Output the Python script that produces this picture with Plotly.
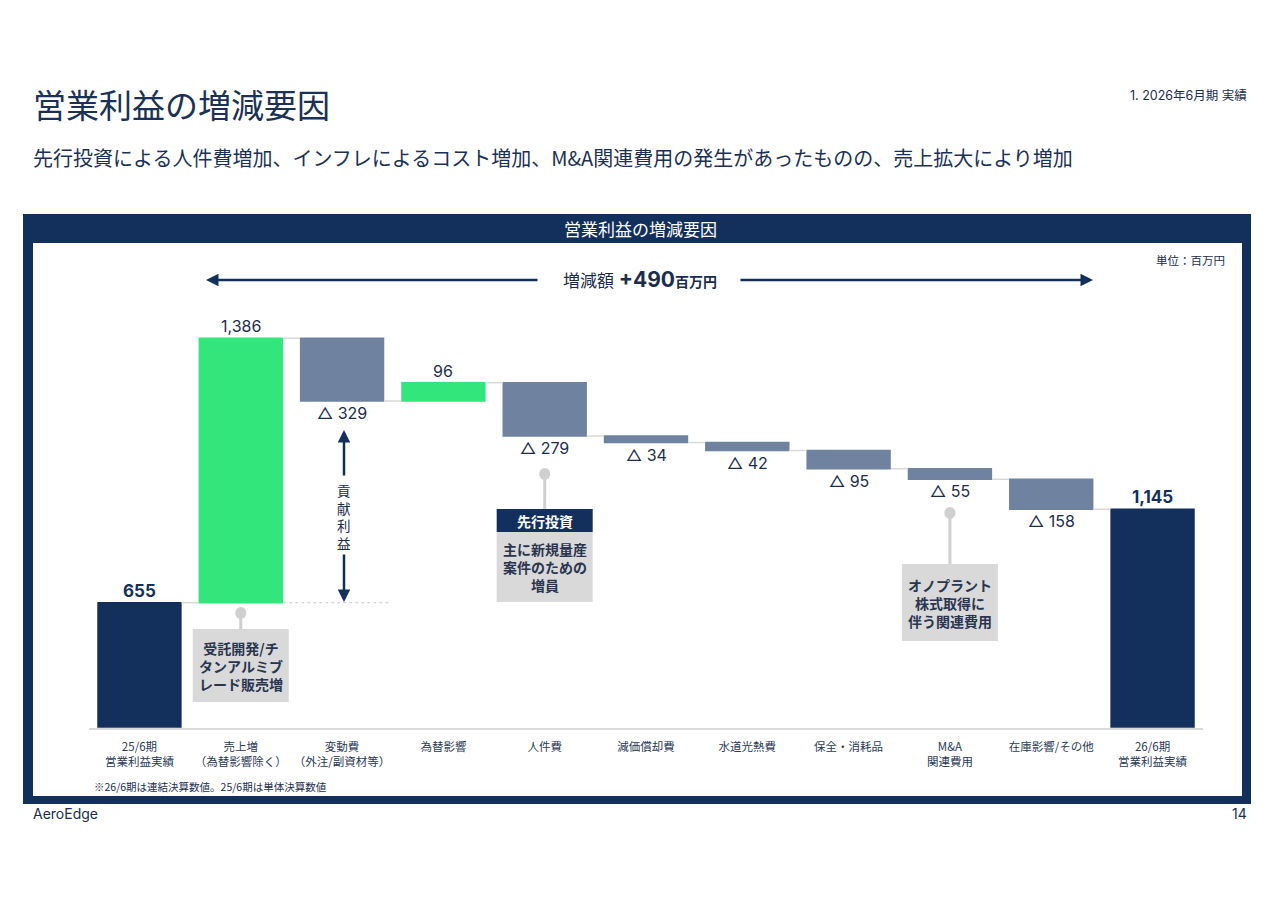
import plotly.graph_objects as go

# data (百万円)
categories = ["25/6期<br>営業利益実績", "売上増<br>（為替影響除く）", "変動費<br>（外注/副資材等）",
              "為替影響", "人件費", "減価償却費", "水道光熱費", "保全・消耗品",
              "M&A<br>関連費用", "在庫影響/その他", "26/6期<br>営業利益実績"]
values = [655, 1386, -329, 96, -279, -34, -42, -95, -55, -158, 0]
measures = ["absolute"] + ["relative"] * 9 + ["total"]

NAVY = "#13305d"
GREEN = "#33e67b"
SLATE = "#6f829f"
LGREY = "#d9d9d9"
TXT = "#1b2d4f"
FONT = "Inter, 'Noto Sans CJK JP', sans-serif"
JFONT = "'Noto Sans CJK JP', sans-serif"

# page has 8px body margin -> figure sits at (8, 8)
OFF = 8
W, H = 1280 - OFF, 905 - OFF
def px(x): return (x - OFF) / W
def py(y): return 1 - (y - OFF) / H

x = list(range(len(categories)))

fig = go.Figure(go.Waterfall(
    x=x, y=values, measure=measures, width=0.833,
    increasing=dict(marker=dict(color=GREEN)),
    decreasing=dict(marker=dict(color=SLATE)),
    totals=dict(marker=dict(color=NAVY)),
    connector=dict(mode="between", line=dict(color=LGREY, width=1.5)),
    hoverinfo="skip",
))

# value labels
ann = []
cum = 0
for i, (v, m) in enumerate(zip(values, measures)):
    if m == "absolute":
        cum = v
        ann.append(dict(x=i, y=cum, text="<b>%s</b>" % format(cum, ","), yanchor="bottom",
                        font=dict(size=17, color=NAVY, family=FONT)))
    elif m == "total":
        ann.append(dict(x=i, y=cum, text="<b>%s</b>" % format(cum, ","), yanchor="bottom",
                        font=dict(size=17, color=NAVY, family=FONT)))
    else:
        cum += v
        if v > 0:
            ann.append(dict(x=i, y=cum, text=format(v, ","), yanchor="bottom",
                            font=dict(size=16, color=TXT, family=FONT)))
        else:
            ann.append(dict(x=i, y=cum, text="△ " + format(-v, ","), yanchor="top",
                            font=dict(size=16, color=TXT, family=FONT)))
for a in ann:
    a.update(xref="x", yref="y", xanchor="center", showarrow=False)

def note(xp, yp, text, size, color=TXT, family=JFONT, xanchor="center"):
    return dict(x=px(xp), y=py(yp), xref="paper", yref="paper", xanchor=xanchor, yanchor="middle",
                showarrow=False, text=text, font=dict(size=size, color=color, family=family))

shapes = []
# frame
shapes.append(dict(type="rect", xref="paper", yref="paper", x0=px(23), x1=px(1251), y0=py(804), y1=py(214),
                   fillcolor=NAVY, line=dict(width=0), layer="below"))
shapes.append(dict(type="rect", xref="paper", yref="paper", x0=px(33), x1=px(1242), y0=py(796), y1=py(243),
                   fillcolor="white", line=dict(width=0), layer="below"))
# dotted base line for contribution bracket
shapes.append(dict(type="line", xref="x", yref="y", x0=1.42, x1=2.46, y0=values[0], y1=values[0],
                   line=dict(color="#c8c8c8", width=1.2, dash="dot")))

# callouts: (category, circle y, box top, box bottom, header, body)
callouts = [
    (1, 613, 629, 702, None, "受託開発/チ<br>タンアルミブ<br>レード販売増"),
    (4, 474, 509, 602, "先行投資", "主に新規量産<br>案件のための<br>増員"),
    (8, 513, 564, 641, None, "オノプラント<br>株式取得に<br>伴う関連費用"),
]
for c, cy, top, bot, head, body in callouts:
    shapes.append(dict(type="line", xref="x", yref="paper", x0=c, x1=c, y0=py(cy), y1=py(top),
                       line=dict(color="#d0d0d0", width=3)))
    shapes.append(dict(type="circle", xref="x", yref="paper", x0=c - 0.055, x1=c + 0.055,
                       y0=py(cy + 6), y1=py(cy - 6), fillcolor="#d0d0d0", line=dict(width=0)))
    btop = top
    if head:
        shapes.append(dict(type="rect", xref="x", yref="paper", x0=c - 0.474, x1=c + 0.474,
                           y0=py(top + 23), y1=py(top), fillcolor=NAVY, line=dict(width=0)))
        ann.append(dict(x=c, y=py(top + 12), xref="x", yref="paper", xanchor="center", yanchor="middle",
                        text="<b>%s</b>" % head, showarrow=False,
                        font=dict(size=14, color="white", family=JFONT)))
        btop = top + 23
    shapes.append(dict(type="rect", xref="x", yref="paper", x0=c - 0.474, x1=c + 0.474,
                       y0=py(bot), y1=py(btop), fillcolor=LGREY, line=dict(width=0)))
    ann.append(dict(x=c, y=py((btop + bot) / 2), xref="x", yref="paper", xanchor="center", yanchor="middle",
                    text="<b>%s</b>" % body, showarrow=False,
                    font=dict(size=14, color="#2a3550", family=JFONT)))

# contribution bracket
ann.append(dict(x=px(344), y=py(430), xref="paper", yref="paper", ax=0, ay=47, text="",
                showarrow=True, arrowhead=2, arrowsize=1, arrowwidth=2.5, arrowcolor=NAVY))
ann.append(dict(x=px(344), y=py(602), xref="paper", yref="paper", ax=0, ay=-49, text="",
                showarrow=True, arrowhead=2, arrowsize=1, arrowwidth=2.5, arrowcolor=NAVY))
ann.append(note(344, 516, "<br>".join("貢献利益"), 13.5))

# total change arrows
ann.append(dict(x=px(206), y=py(280), xref="paper", yref="paper", ax=333, ay=0, text="",
                showarrow=True, arrowhead=2, arrowsize=1, arrowwidth=2.5, arrowcolor=NAVY))
ann.append(dict(x=px(1093), y=py(280), xref="paper", yref="paper", ax=-354, ay=0, text="",
                showarrow=True, arrowhead=2, arrowsize=1, arrowwidth=2.5, arrowcolor=NAVY))
ann.append(note(640, 280, "増減額 <b><span style='font-size:21px'>+%d</span><span style='font-size:14px'>百万円</span></b>"
                % sum(values[1:10]), 17, family=FONT))

# page texts
ann += [
    note(31, 104, "営業利益の増減要因", 33, color="#1b3157", xanchor="left"),
    note(31, 157, "先行投資による人件費増加、インフレによるコスト増加、M&A関連費用の発生があったものの、売上拡大により増加",
         20, color="#1b3157", xanchor="left"),
    note(1249, 95, "1. 2026年6月期 実績", 12.5, family=FONT, xanchor="right"),
    note(640, 229, "営業利益の増減要因", 17, color="white"),
    note(1227, 260, "単位：百万円", 11.5, xanchor="right"),
    note(92, 786, "※26/6期は連結決算数値。25/6期は単体決算数値", 10.5, xanchor="left"),
    note(31, 813, "AeroEdge", 14, family=FONT, xanchor="left"),
    note(1249, 813, "14", 14, family=FONT, xanchor="right"),
]

fig.update_layout(
    width=W, height=H, margin=dict(l=0, r=0, t=0, b=0),
    paper_bgcolor="white", plot_bgcolor="rgba(0,0,0,0)",
    showlegend=False, font=dict(family=FONT, color=TXT),
    shapes=shapes, annotations=ann,
    xaxis=dict(domain=[px(88.8), px(1203.2)], range=[-0.5, 10.5], tickvals=x, ticktext=categories,
               showline=True, linecolor=LGREY, linewidth=1.5, showgrid=False, zeroline=False,
               ticks="outside", ticklen=8, tickcolor="rgba(0,0,0,0)",
               tickfont=dict(size=11.5, color="#2a3a58", family=JFONT)),
    yaxis=dict(domain=[py(727.7), py(300)], range=[0, 2242], visible=False, fixedrange=True),
)

fig.write_html("out.html")
